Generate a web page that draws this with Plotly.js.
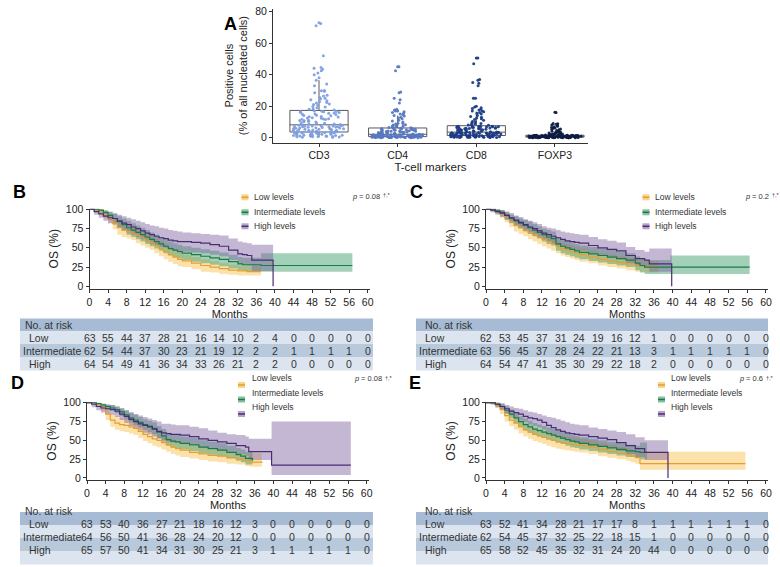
<!DOCTYPE html>
<html><head><meta charset="utf-8">
<script src="https://cdn.plot.ly/plotly-3.0.1.min.js"></script>
<style>html,body{margin:0;padding:0;background:#fff}#chart{width:780px;height:567px}</style>
</head><body><div id="chart"></div>
<script>
// ---------- Panel A data ----------
const markers = ['CD3','CD4','CD8','FOXP3'];
const cd3 = [0.2,0.4,0.5,0.7,0.8,1,1.1,1.3,1.4,1.6,1.7,1.9,2,2.1,2.3,2.4,2.6,2.7,2.8,3,3.1,3.2,3.3,3.4,3.5,
  0.3,0.6,0.9,1.2,1.5,1.8,2.2,2.5,2.9,3.2,3.4,1,
  3.7,3.9,4.1,4.3,4.5,4.7,4.9,5.1,5.3,5.5,5.7,5.9,6.1,6.3,6.5,6.7,6.9,7,7.1,7.3,7.4,7.5,7.7,7.8,8,
  3.8,4.2,4.6,5,5.4,5.8,6.2,6.6,7,7.4,7.9,5.6,
  8.3,8.7,9.1,9.5,9.9,10.3,10.7,11.1,11.5,11.9,12.3,12.7,13.1,13.5,13.9,14.3,14.7,15.1,15.5,15.9,16.2,16.4,16.6,16.8,17,
  8.5,9.3,10.1,10.9,11.7,12.5,13.3,14.1,14.9,15.7,16.5,12,
  17.6,18.3,19,19.8,20.5,21.3,22,22.8,23.5,24.5,25.5,26.5,28.5,29.5,30,34,38,40,42.5,43.5,44,52,71,72.5,73,
  18,19.4,21,22.4,24,25,27,29.8,33,36.5,41,44.5];
const cd4 = [0,0,0.1,0.1,0.1,0.2,0.2,0.2,0.3,0.3,0.3,0.3,0.4,0.4,0.4,0.4,0.5,0.5,0.5,0.5,0.5,0.6,0.6,0.6,0.6,
  0,0.1,0.2,0.3,0.4,0.5,0.6,0.1,0.2,0.3,0.4,0.5,
  0.7,0.7,0.8,0.8,0.9,0.9,1,1,1.1,1.1,1.2,1.3,1.3,1.4,1.5,1.5,1.6,1.7,1.7,1.8,1.9,1.9,2,2,2.1,
  0.7,0.9,1,1.2,1.4,1.6,1.8,2,0.8,1.1,1.5,1.9,
  2.2,2.4,2.5,2.7,2.8,3,3.1,3.3,3.4,3.6,3.7,3.9,4,4.2,4.3,4.5,4.7,4.9,5,5.2,5.4,5.5,5.7,5.8,6,
  2.3,2.6,2.9,3.2,3.5,3.8,4.1,4.4,4.8,5.1,5.6,5.9,
  6.3,6.7,7,7.4,7.8,8.2,8.7,9.2,10,11,12,13,13.8,14.5,15.5,16.5,17,17.5,18,22,25,28.5,42.5,45,45,
  6.5,7.2,8,9,10.5,12.5,14,15,16,17,24,29];
const cd8 = [0.1,0.1,0.2,0.2,0.3,0.3,0.4,0.4,0.5,0.5,0.6,0.6,0.7,0.7,0.8,0.8,0.9,0.9,1,1,1.1,1.1,1.2,1.2,1.3,
  0.1,0.2,0.3,0.4,0.5,0.6,0.7,0.8,0.9,1,1.1,1.2,
  1.4,1.5,1.6,1.7,1.8,1.9,2,2.1,2.2,2.3,2.4,2.5,2.6,2.7,2.8,2.9,3,3,3.1,3.1,3.2,3.2,3.3,3.3,3.4,
  1.5,1.7,1.9,2.1,2.3,2.5,2.7,2.9,3.1,3.3,2,2.6,
  3.6,3.8,4,4.2,4.4,4.6,4.8,5,5.2,5.4,5.6,5.8,6,6.1,6.2,6.4,6.5,6.6,6.8,6.9,7,7.1,7.2,7.3,7.4,
  3.7,4.1,4.5,4.9,5.3,5.7,6.1,6.5,6.9,7.3,5,6,
  7.8,8.3,8.9,9.5,10.2,11,12,13,14,15,16,16.5,17,17.5,18,19,20,25,25,33,35,37,47,50.5,50.5,
  8,9,10,11.5,12.5,13.5,15.5,17,18.5,19.5,34.5,36.5];
const foxp3 = [0,0,0,0,0,0.1,0.1,0.1,0.1,0.1,0.1,0.2,0.2,0.2,0.2,0.2,0.2,0.2,0.3,0.3,0.3,0.3,0.3,0.3,0.3,
  0,0,0.1,0.1,0.2,0.2,0.2,0.3,0.3,0.1,0,0.2,
  0.4,0.4,0.4,0.4,0.5,0.5,0.5,0.5,0.5,0.6,0.6,0.6,0.6,0.7,0.7,0.7,0.7,0.7,0.8,0.8,0.8,0.8,0.8,0.9,0.9,
  0.4,0.5,0.6,0.7,0.8,0.9,0.5,0.6,0.7,0.8,0.4,0.6,
  0.9,0.9,0.9,1,1,1,1,1.1,1.1,1.1,1.1,1.2,1.2,1.2,1.2,1.3,1.3,1.3,1.3,1.4,1.4,1.4,1.5,1.5,1.5,
  1,1.1,1.2,1.3,1.4,1.5,1,1.1,1.2,1.3,1.4,0.9,
  1.6,1.7,1.8,1.9,2,2.1,2.3,2.5,2.7,2.9,3.1,3.3,3.6,4,4.5,5,5.5,6,6.5,7,7.5,8,8.5,16,16.2,
  1.7,2,2.4,2.8,3.2,3.5,4.2,5.2,6.2,7.2,8.8,9];
const markerColors = ['#7e9fe2','#5678c2','#1b3b86','#0e1c45'];

// ---------- KM data (time in months, OS %) ----------
// Panel B
const B_low_t = [0,1,2,3,4,5,6,7,8,9,10,11,12,13,14,15,16,17,18,19,20,22,24,26,28,30,32,34,37];
const B_low_s = [100,99,97,93,88,82,76,73,71,69,66,63,60,57,53,49,45,41,38,35,33,30,27,25,23,21,20,19,19];
const B_low_lo = [100,97,94,88,82,74,67,64,62,60,56,53,50,47,43,39,35,32,29,26,25,22,19,18,16,15,14,14,14];
const B_low_hi = [100,100,99,97,93,89,84,82,80,78,75,72,70,67,63,59,55,51,47,44,41,38,35,33,30,28,27,26,25];
const B_int_t = [0,1,2,3,4,5,6,7,8,9,10,11,12,13,14,15,16,17,18,19,20,22,24,26,28,30,32,33,37,56.7];
const B_int_s = [100,100,99,96,92,88,84,80,76,73,70,67,64,61,58,55,52,49,47,45,43,41,39,37,35,32,29,28,27,27];
const B_int_lo = [100,98,96,91,86,81,76,72,67,64,61,58,55,52,49,46,43,40,38,36,34,32,30,28,26,23,21,20,19,19];
const B_int_hi = [100,100,100,99,97,94,91,88,85,82,79,76,73,70,67,64,61,58,56,54,52,50,48,46,44,41,38,37,43,43];
const B_high_t = [0,1,2,3,4,5,6,7,8,9,10,11,12,13,14,15,16,17,18,19,20,22,24,26,28,30,32,33,34,35,39.6];
const B_high_s = [100,97,94,91,89,88,85,82,80,77,75,72,69,67,65,63,62,60,59,58,58,57,56,54,52,47,42,41,40,34,0];
const B_high_lo = [100,93,89,85,82,80,76,73,70,67,64,61,58,55,53,51,50,48,46,45,45,44,43,41,39,34,29,28,27,20,20];
const B_high_hi = [100,100,99,97,96,95,93,91,89,87,85,83,81,79,78,76,75,73,72,71,70,69,68,67,66,62,58,57,56,54,54];
// Panel C
const C_low_t = [0,1,2,3,4,5,6,7,8,9,10,11,12,13,14,15,16,17,18,19,20,22,24,26,28,30,32,34,37];
const C_low_s = [100,99,97,94,89,84,79,76,73,70,67,64,61,58,55,52,49,47,45,43,41,38,35,33,31,29,27,25,24];
const C_low_lo = [100,97,94,89,83,77,71,68,65,61,58,55,52,49,46,43,40,38,36,34,32,30,27,25,23,21,19,18,17];
const C_low_hi = [100,100,99,97,94,90,86,83,81,78,75,72,69,66,63,60,57,55,53,51,49,46,43,41,39,37,35,33,32];
const C_int_t = [0,1,2,3,4,5,6,7,8,9,10,11,12,13,14,15,16,17,18,19,20,22,24,26,28,30,32,33,34,39.5,56.5];
const C_int_s = [100,100,98,96,92,88,85,82,79,76,73,70,67,64,62,55,52,50,48,46,44,42,40,38,36,34,30,27,25,25,25];
const C_int_lo = [100,98,95,92,87,82,78,75,71,68,65,62,58,55,53,46,43,41,39,37,35,33,31,29,27,25,21,18,16,16,16];
const C_int_hi = [100,100,100,99,96,93,91,88,86,84,81,78,75,73,71,64,61,59,57,55,53,51,49,47,45,43,39,36,34,40,40];
const C_high_t = [0,1,2,3,4,5,6,7,8,9,10,11,12,13,14,15,16,17,18,19,20,22,24,26,28,30,32,34,35,39.8];
const C_high_s = [100,99,97,95,92,89,86,83,80,77,75,72,69,67,65,63,61,59,58,57,56,53,50,48,46,40,36,34,29,0];
const C_high_lo = [100,96,93,90,86,83,79,76,72,69,66,63,60,58,55,53,51,49,48,47,46,43,40,38,35,30,26,24,19,19];
const C_high_hi = [100,100,100,99,97,95,92,90,87,85,83,81,78,76,75,73,71,70,69,68,67,64,61,59,57,51,47,45,49,49];
// Panel D
const D_low_t = [0,1,2,3,4,5,6,7,8,9,10,11,12,13,14,15,16,17,18,19,20,22,24,26,28,30,32,34,35,37.5];
const D_low_s = [100,100,98,94,85,77,73,71,70,68,66,62,58,55,52,50,47,44,41,39,37,34,32,30,29,27,25,23,21,20];
const D_low_lo = [100,99,95,89,77,68,64,62,61,59,57,53,49,46,43,41,38,35,32,30,28,26,24,22,21,19,18,16,15,15];
const D_low_hi = [100,100,100,98,92,85,82,80,79,77,75,71,67,64,61,59,56,53,50,48,46,43,41,38,37,35,33,31,33,33];
const D_int_t = [0,1,2,3,4,5,6,7,8,9,10,11,12,13,14,15,16,17,18,19,20,22,24,26,28,30,32,33,34,35.5];
const D_int_s = [100,100,99,97,95,93,91,88,84,80,77,74,71,69,66,61,56,51,49,48,46,44,41,39,37,34,31,29,26,23];
const D_int_lo = [100,99,97,94,91,89,86,82,78,74,70,67,64,61,58,53,48,43,41,40,38,36,33,31,29,26,23,21,18,13];
const D_int_hi = [100,100,100,99,98,97,95,93,90,87,84,81,78,76,74,69,65,60,58,57,55,53,50,48,46,43,40,38,35,33];
const D_high_t = [0,1,2,3,4,5,6,7,8,9,10,11,12,13,14,15,16,17,18,19,20,22,24,26,28,30,32,34,34.7,39.6,56.6];
const D_high_s = [100,98,95,93,92,91,89,85,82,78,75,72,70,68,65,62,60,59,58,58,57,55,52,50,48,46,43,41,35,17,17];
const D_high_lo = [100,94,90,87,85,84,81,77,73,69,66,63,60,58,55,52,50,48,47,47,46,44,41,39,37,35,32,30,24,4,4];
const D_high_hi = [100,100,99,98,97,97,95,92,90,87,85,83,81,79,77,75,72,72,71,70,70,68,66,63,60,58,57,55,52,75,75];
// Panel E
const E_low_t = [0,1,2,3,4,5,6,7,8,9,10,11,12,13,14,15,16,17,18,19,20,22,24,26,28,30,31,32,33,55.6];
const E_low_s = [100,100,97,91,83,77,73,68,64,61,58,56,54,52,50,48,47,46,45,44,43,41,38,35,33,31,29,27,19,19];
const E_low_lo = [100,98,93,85,75,69,64,59,55,52,49,47,45,43,41,39,38,37,36,35,34,32,29,27,25,23,21,19,11,11];
const E_low_hi = [100,100,100,96,90,85,81,77,73,70,67,65,63,61,59,57,56,55,54,53,52,50,47,44,42,40,38,36,35,35];
const E_int_t = [0,1,2,3,4,5,6,7,8,9,10,11,12,13,14,15,16,17,18,19,20,22,24,26,28,30,32,33,34.5];
const E_int_s = [100,100,98,95,90,85,80,75,71,68,65,63,61,59,57,55,53,51,49,48,46,44,42,40,38,36,35,34,34];
const E_int_lo = [100,98,95,91,85,79,73,68,63,60,57,55,53,51,49,47,45,43,41,40,38,36,34,32,30,28,27,25,25];
const E_int_hi = [100,100,100,99,95,91,87,82,79,76,73,71,69,67,65,63,61,59,57,56,54,52,50,48,46,44,43,47,47];
const E_high_t = [0,1,2,3,4,5,6,7,8,9,10,11,12,13,14,15,16,17,18,19,20,22,24,26,28,30,32,34,39];
const E_high_s = [100,100,98,95,92,89,87,85,82,80,79,77,74,70,67,64,62,60,59,58,57,55,53,51,47,43,39,34,0];
const E_high_lo = [100,98,94,90,86,83,80,77,74,71,69,67,64,60,57,54,52,50,48,47,46,44,42,40,36,32,28,24,24];
const E_high_hi = [100,100,100,99,97,95,93,92,90,88,87,85,83,81,80,78,76,74,72,71,70,67,65,63,61,58,54,50,50];

// ---------- Numbers at risk ----------
const riskMonths = [0,4,8,12,16,20,24,28,32,36,40,44,48,52,56,60];
const riskGroups = ['Low','Intermediate','High'];
const B_risk_low = [63,55,44,37,28,21,16,14,10,2,4,0,0,0,0,0];
const B_risk_int = [62,54,44,37,30,23,21,19,12,2,2,1,1,1,1,0];
const B_risk_high = [64,54,49,41,36,34,33,26,21,2,2,0,0,0,0,0];
const C_risk_low = [62,53,45,37,31,24,19,16,12,1,0,0,0,0,0,0];
const C_risk_int = [63,56,45,37,28,24,22,21,13,3,1,1,1,1,1,0];
const C_risk_high = [64,54,47,41,35,30,29,22,18,2,0,0,0,0,0,0];
const D_risk_low = [63,53,40,36,27,21,18,16,12,3,0,0,0,0,0,0];
const D_risk_int = [64,56,50,41,36,28,24,20,12,0,0,0,0,0,0,0];
const D_risk_high = [65,57,50,41,34,31,30,25,21,3,1,1,1,1,1,0];
const E_risk_low = [63,52,41,34,28,21,17,17,8,1,1,1,1,1,1,0];
const E_risk_int = [62,54,45,37,32,25,22,18,15,1,0,0,0,0,0,0];
const E_risk_high = [65,58,52,45,35,32,31,24,20,44,0,0,0,0,0,0];
const legendLabels = ['Low levels','Intermediate levels','High levels'];
const pTexts = ['0.08','0.2','0.08','0.6'];

// ---------- helpers ----------
const W = 780, H = 567;
const fx = p => p / W, fy = p => 1 - p / H;
const FONT = 'Liberation Sans, Arial, sans-serif';
const lineCol = ['#e39f35','#1d7a47','#4a2c72'];
const bandCol = ['rgba(252,196,88,0.5)','rgba(50,150,100,0.45)','rgba(125,95,160,0.45)'];
const symCol = ['#fbd48a','#86c2a0','#b4a4c9'];

const traces = [];
[cd3,cd4,cd8,foxp3].forEach((vals,i)=>{
  traces.push({type:'box', y:vals, name:markers[i], xaxis:'x', yaxis:'y',
    boxpoints:'all', jitter:0.9, pointpos:0, width:0.74, whiskerwidth:0,
    marker:{color:markerColors[i], size:3, opacity:0.95},
    line:{color:'#5a5a5a', width:1}, fillcolor:'rgba(255,255,255,0)', hoverinfo:'y'});
});

const panels = [
  {xa:'x2', ya:'y2', d:[[B_low_t,B_low_s,B_low_lo,B_low_hi],[B_int_t,B_int_s,B_int_lo,B_int_hi],[B_high_t,B_high_s,B_high_lo,B_high_hi]], risk:[B_risk_low,B_risk_int,B_risk_high]},
  {xa:'x3', ya:'y3', d:[[C_low_t,C_low_s,C_low_lo,C_low_hi],[C_int_t,C_int_s,C_int_lo,C_int_hi],[C_high_t,C_high_s,C_high_lo,C_high_hi]], risk:[C_risk_low,C_risk_int,C_risk_high]},
  {xa:'x4', ya:'y4', d:[[D_low_t,D_low_s,D_low_lo,D_low_hi],[D_int_t,D_int_s,D_int_lo,D_int_hi],[D_high_t,D_high_s,D_high_lo,D_high_hi]], risk:[D_risk_low,D_risk_int,D_risk_high]},
  {xa:'x5', ya:'y5', d:[[E_low_t,E_low_s,E_low_lo,E_low_hi],[E_int_t,E_int_s,E_int_lo,E_int_hi],[E_high_t,E_high_s,E_high_lo,E_high_hi]], risk:[E_risk_low,E_risk_int,E_risk_high]}
];
panels.forEach(p=>{
  p.d.forEach((g,k)=>{
    traces.push({x:g[0], y:g[2], xaxis:p.xa, yaxis:p.ya, mode:'lines', line:{width:0, shape:'hv'}, hoverinfo:'skip', showlegend:false});
    traces.push({x:g[0], y:g[3], xaxis:p.xa, yaxis:p.ya, mode:'lines', line:{width:0, shape:'hv'}, fill:'tonexty', fillcolor:bandCol[k], hoverinfo:'skip', showlegend:false});
  });
  p.d.forEach((g,k)=>{
    traces.push({x:g[0], y:g[1], xaxis:p.xa, yaxis:p.ya, mode:'lines', line:{width:1.2, shape:'hv', color:lineCol[k]}, name:riskGroups[k], showlegend:false});
  });
});

const geo = [
  {x0:89.5, x1:370, ybot:289, ytop:208.5, yr:[-3.5,101], tab:[20,373], rows:[318.5,331.3,344.1,356.9,370.5], lab:[22.7,27.3,20.7,27.3], leg:[241.5,251.5,[197.3,212.3,226.3]], pX:350, pY:197, title:'B', tX:11, tY:192},
  {x0:486, x1:768.3, ybot:289, ytop:208.5, yr:[-3.5,101], tab:[416,768], rows:[318.5,331.3,344.1,356.9,370.5], lab:[423.3,423.3,416.7,423.3], leg:[642.5,653,[197.3,212.3,226.3]], pX:743, pY:197, title:'C', tX:416, tY:192},
  {x0:87, x1:369, ybot:480, ytop:402, yr:[-2.7,101], tab:[20,373], rows:[512,525,538,551,564.5], lab:[22.7,27.3,20.7,27.3], leg:[238,250,[385,399.5,414]], pX:352, pY:385, title:'D', tX:9, tY:395},
  {x0:486, x1:768.3, ybot:480, ytop:402, yr:[-2.7,101], tab:[416,768], rows:[512,525,538,551,564.5], lab:[423.3,423.3,416.7,423.3], leg:[658,669,[385,399.5,414]], pX:737, pY:385, title:'E', tX:415, tY:395}
];

const axisBase = {showgrid:false, zeroline:false, showline:true, linecolor:'#333', linewidth:1, ticks:'outside', ticklen:3, tickcolor:'#333', tickfont:{family:FONT, size:10.5, color:'#222'}};
const layout = {
  width:W, height:H, margin:{l:0,r:0,t:0,b:0}, paper_bgcolor:'#fff', plot_bgcolor:'rgba(0,0,0,0)',
  showlegend:false, font:{family:FONT, color:'#222'},
  xaxis: Object.assign({}, axisBase, {domain:[fx(273),fx(588)], anchor:'y', type:'category', categoryarray:markers, range:[-0.585,3.42],
    title:{text:'T-cell markers', font:{family:FONT,size:11.5,color:'#222'}, standoff:2}}),
  yaxis: Object.assign({}, axisBase, {domain:[fy(142.7),fy(8.5)], anchor:'x', range:[-3.2,82], tickvals:[0,20,40,60,80],
    title:{text:'Positive cells<br>(% of all nucleated cells)', font:{family:FONT,size:11,color:'#222'}, standoff:5}}),
  shapes:[], annotations:[]
};
geo.forEach((g,i)=>{
  const n = i+2;
  layout['xaxis'+n] = Object.assign({}, axisBase, {domain:[fx(g.x0),fx(g.x1)], anchor:'y'+n, range:[0,60.5], tickvals:riskMonths,
    title:{text:'Months', font:{family:FONT,size:11,color:'#222'}, standoff:2}});
  layout['yaxis'+n] = Object.assign({}, axisBase, {domain:[fy(g.ybot),fy(g.ytop)], anchor:'x'+n, range:g.yr, tickvals:[0,25,50,75,100],
    title:{text:'OS (%)', font:{family:FONT,size:12,color:'#222'}, standoff:4}});
  layout.annotations.push({text:'<b>'+g.title+'</b>', x:fx(g.tX), y:fy(g.tY), xref:'paper', yref:'paper', showarrow:false, font:{family:FONT,size:18,color:'#000'}});
  legendLabels.forEach((lab,k)=>{
    const yy = g.leg[2][k];
    layout.shapes.push({type:'rect', xref:'paper', yref:'paper', x0:fx(g.leg[0]), x1:fx(g.leg[0]+7), y0:fy(yy+3), y1:fy(yy-3), fillcolor:symCol[k], line:{width:0}});
    layout.shapes.push({type:'line', xref:'paper', yref:'paper', x0:fx(g.leg[0]), x1:fx(g.leg[0]+7), y0:fy(yy), y1:fy(yy), line:{color:lineCol[k], width:1.5}});
    layout.annotations.push({text:lab, x:fx(g.leg[1]), y:fy(yy), xref:'paper', yref:'paper', xanchor:'left', showarrow:false, font:{family:FONT,size:8.5,color:'#333'}});
  });
  layout.annotations.push({text:'p', x:fx(g.pX), y:fy(g.pY), xref:'paper', yref:'paper', xanchor:'left', showarrow:false, font:{family:FONT,size:7.5,color:'#333',style:'italic'}});
  layout.annotations.push({text:'= '+pTexts[i], x:fx(g.pX+7), y:fy(g.pY), xref:'paper', yref:'paper', xanchor:'left', showarrow:false, font:{family:FONT,size:7.5,color:'#333'}});
  const valW = 7.5 + pTexts[i].length * 4.2;
  layout.annotations.push({text:'†,*', x:fx(g.pX+7+valW), y:fy(g.pY-2.5), xref:'paper', yref:'paper', xanchor:'left', showarrow:false, font:{family:FONT,size:5.5,color:'#333'}});
  const rc = ['#a7bcd4','#dce5ef','#b8c9dc','#dce5ef'];
  for(let r=0;r<4;r++){
    layout.shapes.push({type:'rect', xref:'paper', yref:'paper', layer:'below', x0:fx(g.tab[0]), x1:fx(g.tab[1]), y0:fy(g.rows[r+1]), y1:fy(g.rows[r]), fillcolor:rc[r], line:{width:0}});
  }
  const rowLabels = ['No. at risk'].concat(riskGroups);
  rowLabels.forEach((lab,r)=>{
    layout.annotations.push({text:lab, x:fx(g.lab[r]), y:fy((g.rows[r]+g.rows[r+1])/2), xref:'paper', yref:'paper', xanchor:'left', showarrow:false, font:{family:FONT,size:10.5,color:'#333'}});
  });
  panels[i].risk.forEach((arr,k)=>{
    arr.forEach((v,j)=>{
      layout.annotations.push({text:String(v), x:riskMonths[j], xref:'x'+n, y:fy((g.rows[k+1]+g.rows[k+2])/2), yref:'paper', showarrow:false, font:{family:FONT,size:10.5,color:'#333'}});
    });
  });
});
layout.annotations.push({text:'<b>A</b>', x:fx(222), y:fy(12.5), xref:'paper', yref:'paper', showarrow:false, font:{family:FONT,size:18,color:'#000'}});

Plotly.newPlot('chart', traces, layout, {displayModeBar:false, staticPlot:true});
</script>
</body></html>
